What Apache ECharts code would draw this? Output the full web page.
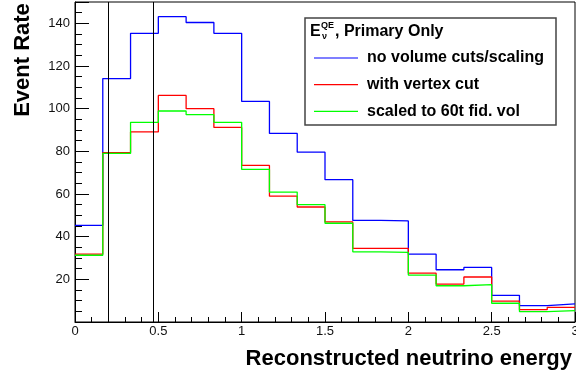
<!DOCTYPE html>
<html>
<head>
<meta charset="utf-8">
<script src="https://cdn.jsdelivr.net/npm/echarts@6/dist/echarts.min.js"></script>
<style>
  html, body { margin: 0; padding: 0; background: #fff; }
  #chart { width: 576px; height: 377px; }
</style>
</head>
<body>
<div id="chart"></div>
<script>
// Bin edges of the reconstructed-energy histogram (GeV), 18 bins from 0 to 3
const binEdges = [0, 0.1667, 0.3333, 0.5, 0.6667, 0.8333, 1, 1.1667, 1.3333, 1.5,
                  1.6667, 1.8333, 2, 2.1667, 2.3333, 2.5, 2.6667, 2.8333, 3];

// Event rate per bin
const noCuts     = [45.3, 114.1, 135.3, 143.1, 140.4, 135.3, 103.4, 88.4, 79.6, 66.7,
                    47.6, 47.4, 31.8, 24.5, 25.6, 12.5, 7.7, 8.5];
const vertexCut  = [31.8, 79.4, 89.1, 106.2, 100.0, 91.2, 73.4, 59.0, 53.9, 46.9,
                    34.5, 34.5, 22.9, 17.8, 21.1, 9.8, 5.8, 6.9];
const scaledFid  = [31.3, 79.0, 93.6, 98.9, 97.2, 93.6, 71.5, 60.9, 55.0, 46.3,
                    32.9, 32.6, 22.0, 17.0, 17.5, 8.8, 4.9, 5.3];

const seriesNames = ['no volume cuts/scaling', 'with vertex cut', 'scaled to 60t fid. vol'];
const seriesColors = ['#0000ff', '#ff0000', '#00ff00'];

// Energy cut markers
const cutLines = [0.2, 0.475];

const xTickLabels = ['0', '0.5', '1', '1.5', '2', '2.5', '3'];
const yTickLabels = ['20', '40', '60', '80', '100', '120', '140'];

const FONT = '"Liberation Sans", Arial, Helvetica, sans-serif';

// Histogram outline: one point per bin's low edge, plus the final high edge
function stepData(values) {
  const pts = values.map((v, i) => [binEdges[i], v]);
  pts.push([binEdges[binEdges.length - 1], values[values.length - 1]]);
  return pts;
}

const chart = echarts.init(document.getElementById('chart'), null, { renderer: 'canvas' });

const allValues = [noCuts, vertexCut, scaledFid];
const series = allValues.map((vals, i) => ({
  name: seriesNames[i],
  type: 'line',
  step: 'end',
  data: stepData(vals),
  showSymbol: false,
  symbol: 'none',
  xAxisIndex: 0,
  yAxisIndex: 0,
  lineStyle: { color: seriesColors[i], width: 1.3 },
  itemStyle: { color: seriesColors[i] },
  silent: true
}));

series[0].markLine = {
  silent: true,
  symbol: 'none',
  label: { show: false },
  lineStyle: { color: '#000', width: 1, type: 'solid' },
  data: cutLines.map(x => ({ xAxis: x }))
};

chart.setOption({
  animation: false,
  backgroundColor: '#fff',
  grid: {
    left: 75, right: 1, top: 2, bottom: 55,
    containLabel: false,
    outerBoundsMode: 'none',
    show: true, borderColor: '#000', borderWidth: 1, backgroundColor: 'transparent'
  },
  xAxis: [{
    type: 'value', min: 0, max: 3, interval: 0.5,
    axisLine: { lineStyle: { color: '#000', width: 1 } },
    axisTick: { inside: true, length: 10, lineStyle: { color: '#000' } },
    minorTick: { show: true, splitNumber: 5, length: 5, lineStyle: { color: '#000' } },
    splitLine: { show: false },
    axisLabel: {
      margin: 3, color: '#111', fontSize: 13, fontFamily: FONT,
      showMinLabel: true, showMaxLabel: true,
      formatter: v => {
        const idx = Math.round(v * 2);
        return Math.abs(v * 2 - idx) < 1e-6 ? (xTickLabels[idx] || '') : '';
      }
    }
  }],
  yAxis: [{
    type: 'value', min: 0, max: 150, interval: 20, position: 'left',
    axisLine: { show: true, lineStyle: { color: '#000', width: 1 } },
    axisTick: { inside: true, length: 14, lineStyle: { color: '#000' } },
    splitLine: { show: false },
    axisLabel: {
      margin: 5, color: '#111', fontSize: 13, fontFamily: FONT,
      formatter: v => {
        const idx = Math.round(v / 20) - 1;
        return (v % 20 === 0 && idx >= 0 && idx < yTickLabels.length) ? yTickLabels[idx] : '';
      }
    }
  }, {
    // minor ticks every 5 units
    type: 'value', min: 0, max: 150, interval: 5, position: 'left', offset: 0,
    axisLine: { show: false },
    axisTick: { show: true, inside: true, length: 7, lineStyle: { color: '#000' } },
    axisLabel: { show: false },
    splitLine: { show: false }
  }],
  legend: {
    orient: 'vertical',
    left: 314, top: 48,
    padding: 0,
    itemGap: 6.7,
    itemWidth: 44,
    itemHeight: 1.2,
    icon: 'rect',
    selectedMode: false,
    data: seriesNames,
    textStyle: {
      color: '#000', fontSize: 16, fontWeight: 'bold', fontFamily: FONT,
      lineHeight: 20, padding: [0, 0, 0, 4]
    }
  },
  graphic: [
    // legend frame
    {
      type: 'rect', z: 0, silent: true,
      shape: { x: 305, y: 18, width: 251, height: 107 },
      style: { fill: '#fff', stroke: '#444', lineWidth: 1.5 }
    },
    // legend header: E with stacked sub/superscript, then the rest
    {
      type: 'text', z: 1, silent: true, x: 310, y: 32,
      style: { text: 'E', fill: '#000', font: 'bold 16px ' + FONT,
               align: 'left', verticalAlign: 'middle', textAlign: 'left', textVerticalAlign: 'middle' }
    },
    {
      type: 'text', z: 1, silent: true, x: 321, y: 26,
      style: { text: 'QE', fill: '#000', font: 'bold 9px ' + FONT,
               align: 'left', verticalAlign: 'middle', textAlign: 'left', textVerticalAlign: 'middle' }
    },
    {
      type: 'text', z: 1, silent: true, x: 322, y: 37,
      style: { text: 'ν', fill: '#000', font: 'bold 9px ' + FONT,
               align: 'left', verticalAlign: 'middle', textAlign: 'left', textVerticalAlign: 'middle' }
    },
    {
      type: 'text', z: 1, silent: true, x: 335, y: 32,
      style: { text: ', Primary Only', fill: '#000', font: 'bold 16px ' + FONT,
               align: 'left', verticalAlign: 'middle', textAlign: 'left', textVerticalAlign: 'middle' }
    },
    // axis titles
    {
      type: 'text', silent: true, x: 23, y: 60, rotation: Math.PI / 2,
      style: { text: 'Event Rate', fill: '#000', font: 'bold 22px ' + FONT,
               align: 'center', verticalAlign: 'middle', textAlign: 'center', textVerticalAlign: 'middle' }
    },
    {
      type: 'text', silent: true, x: 572, y: 359,
      style: { text: 'Reconstructed neutrino energy', fill: '#000', font: 'bold 22px ' + FONT,
               align: 'right', verticalAlign: 'middle', textAlign: 'right', textVerticalAlign: 'middle' }
    }
  ],
  series: series
});
</script>
</body>
</html>
